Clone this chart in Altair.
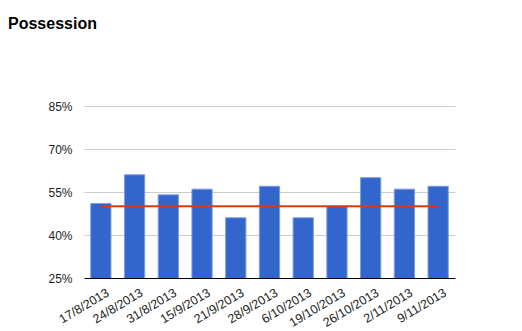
import altair as alt
import pandas as pd

dates = ["17/8/2013", "24/8/2013", "31/8/2013", "15/9/2013", "21/9/2013", "28/9/2013",
         "6/10/2013", "19/10/2013", "26/10/2013", "2/11/2013", "9/11/2013"]
possession = [51, 61, 54, 56, 46, 57, 46, 50, 60, 56, 57]
target = [50, 50, 50, 50, 50, 50, 50, 50, 50, 50, 50]
y_ticks = [25, 40, 55, 70, 85]

df = pd.DataFrame({
    "date": dates,
    "possession": [v / 100 for v in possession],
    "target": [v / 100 for v in target],
})

FONT = "Liberation Sans"

x = alt.X("date:N", sort=dates, title=None,
          scale=alt.Scale(paddingInner=0.4, paddingOuter=0.2),
          axis=alt.Axis(labelAngle=-31, labelAlign="right", labelBaseline="top",
                        labelPadding=8, labelOffset=4, ticks=False, domainColor="#000000",
                        domainWidth=1, labelFont=FONT, labelFontSize=12.5, labelColor="#222222",
                        labelOverlap=False, zindex=1))
y = alt.Y("possession:Q", title=None,
          scale=alt.Scale(domain=[0.25, 0.85], nice=False, zero=False),
          axis=alt.Axis(values=[v / 100 for v in y_ticks], format=".0%", ticks=False,
                        domain=False, gridColor="#cccccc", labelPadding=12,
                        labelFont=FONT, labelFontSize=12, labelColor="#222222"))

bars = alt.Chart(df).mark_bar(color="#3366cc", stroke="#7d9be0", strokeWidth=1,
                              clip=True).encode(x=x, y=y)
line = alt.Chart(df).mark_line(color="#dc3912", strokeWidth=2).encode(
    x=alt.X("date:N", sort=dates),
    y=alt.Y("target:Q"))

chart = alt.layer(bars, line).properties(
    width=371, height=172,
    title=alt.TitleParams("Possession", anchor="start", frame="group", dx=-76, dy=-64,
                          font=FONT, fontSize=16, fontWeight="bold", color="#000000"),
    autosize=alt.AutoSizeParams(type="none"),
    padding={"left": 84, "top": 106, "right": 67, "bottom": 53},
).configure_view(stroke=None)

chart.save("out.html", embed_options={"renderer": "svg", "actions": False})
